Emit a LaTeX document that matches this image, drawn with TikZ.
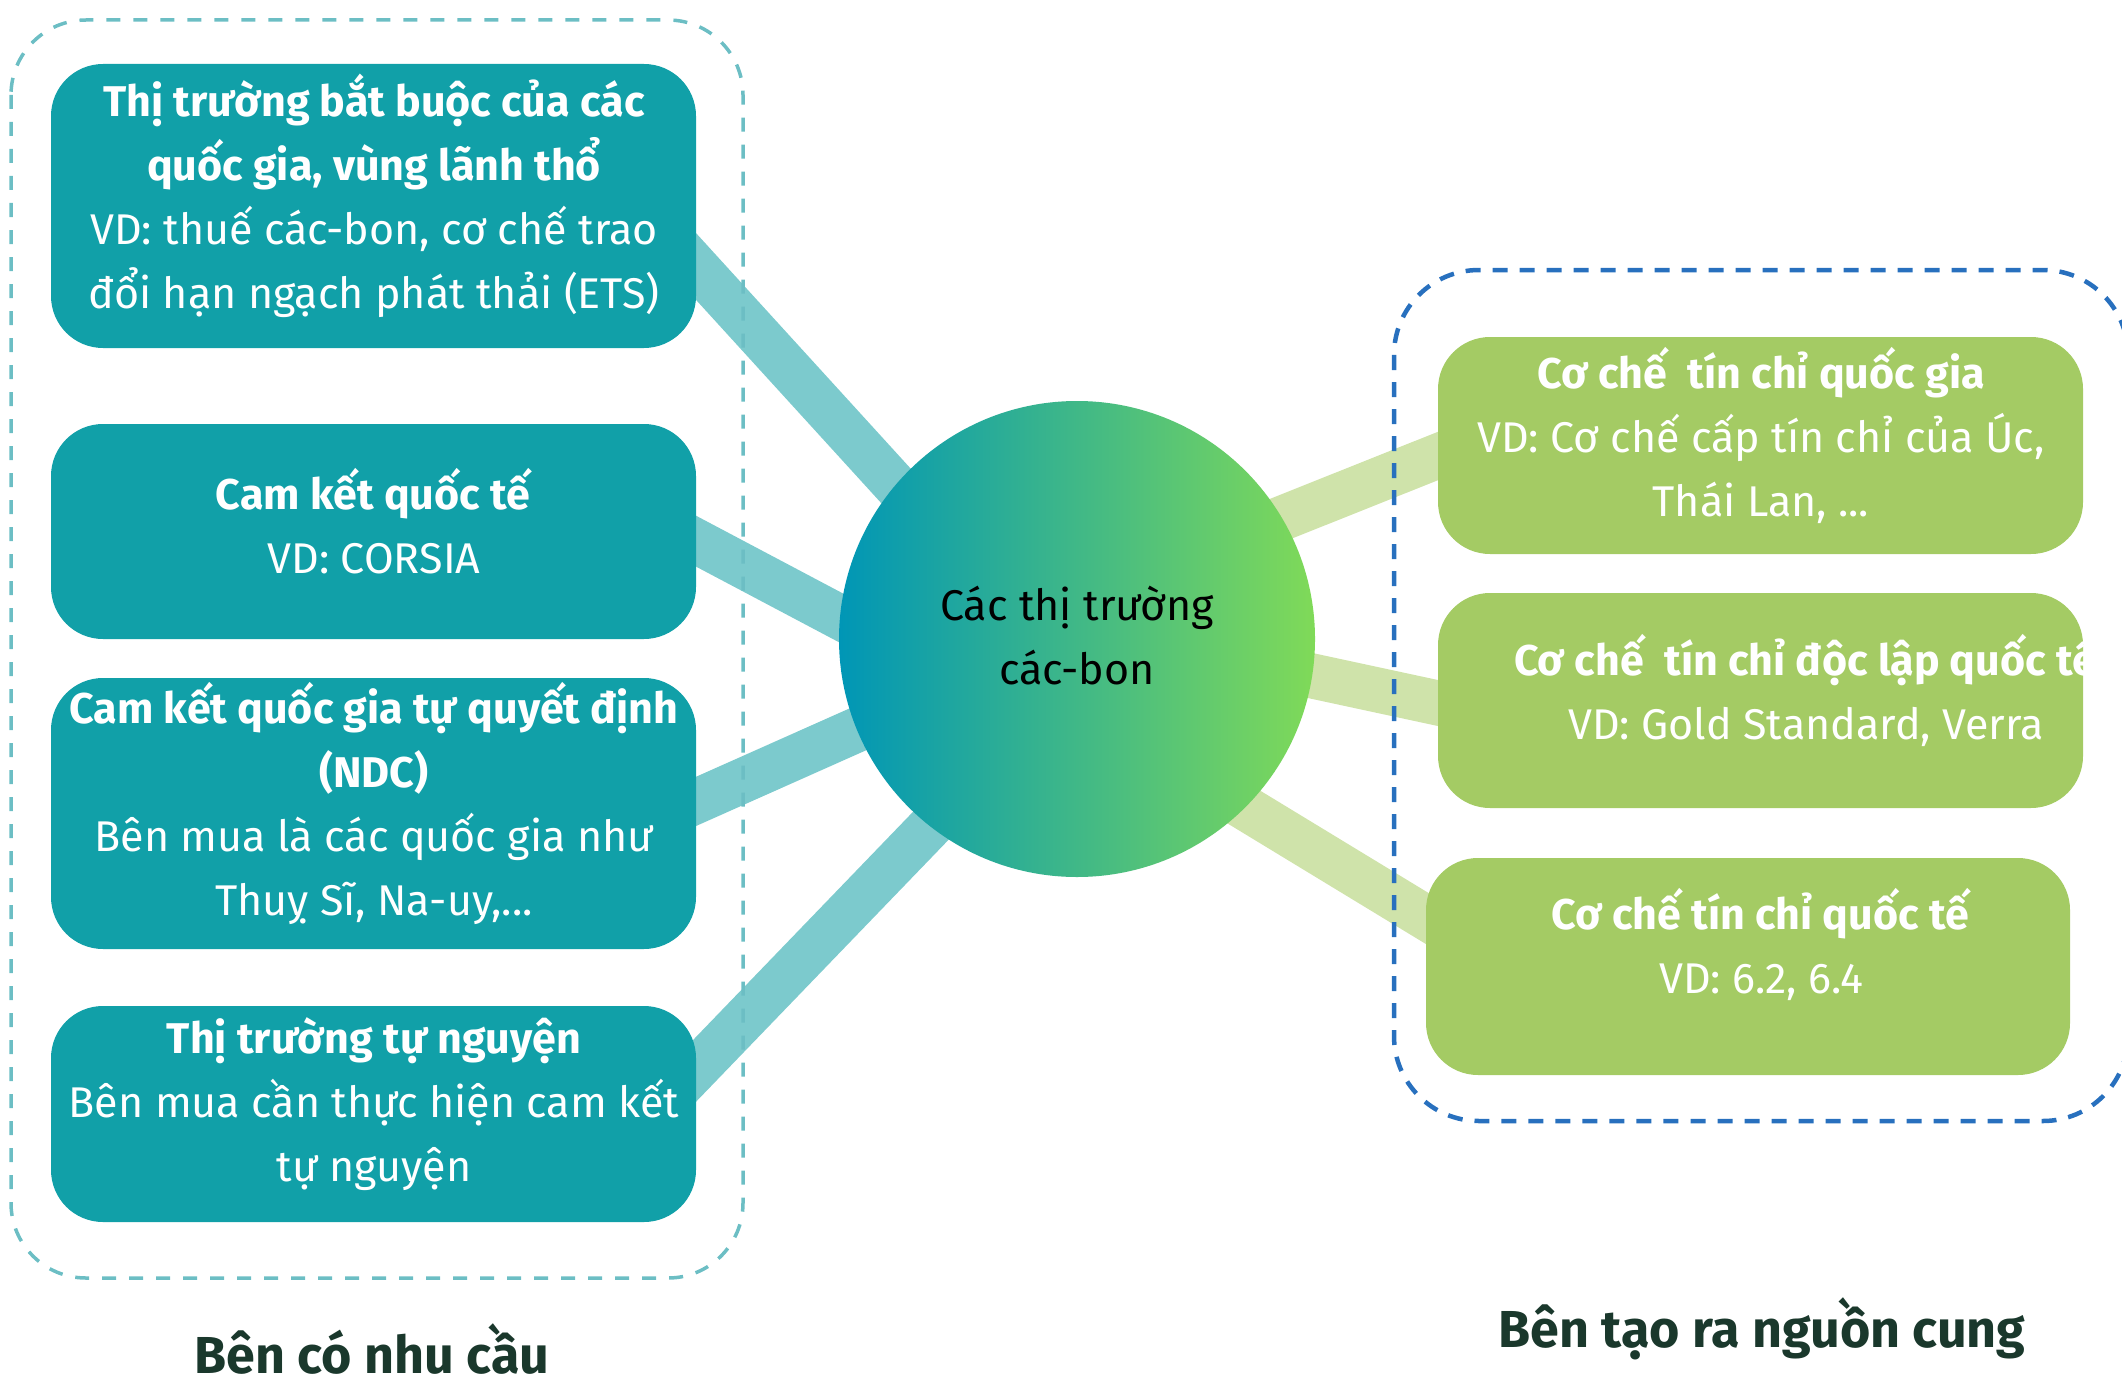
\documentclass[tikz,border=0pt]{standalone}
\usepackage{fontspec}
\setmainfont{Fira Sans}
\usetikzlibrary{calc}
\definecolor{tealbox}{RGB}{17,160,168}
\definecolor{tealline}{RGB}{124,202,205}
\definecolor{tealdash}{RGB}{108,190,196}
\definecolor{greenbox}{RGB}{164,203,100}
\definecolor{greenline}{RGB}{207,227,170}
\definecolor{bluedash}{RGB}{40,112,190}
\definecolor{labelc}{RGB}{26,56,44}
\definecolor{hubL}{RGB}{0,150,182}
\definecolor{hubR}{RGB}{128,218,88}
\tikzset{
  lbox/.style={fill=tealbox, draw=none, rounded corners=52pt, minimum width=645pt, inner sep=0pt},
  rbox/.style={fill=greenbox, draw=none, rounded corners=52pt, minimum width=645pt, inner sep=0pt},
  boxtext/.style={text=white, align=center, font=\fontsize{43}{64}\selectfont, inner sep=0pt},
  lconn/.style={draw=tealline, line width=45pt},
  rconn/.style={draw=greenline, line width=45pt},
  lframe/.style={draw=tealdash, line width=3.5pt, dash pattern=on 14pt off 13pt, rounded corners=75pt},
  rframe/.style={draw=bluedash, line width=4.5pt, dash pattern=on 15pt off 12pt, rounded corners=85pt},
  sidelabel/.style={text=labelc, font=\fontsize{52}{60}\selectfont\bfseries, inner sep=0pt, anchor=base}
}
\begin{document}
\begin{tikzpicture}[x=1pt,y=-1pt]
\useasboundingbox (0,0) rectangle (2122,1383);
% named anchors for box and hub positions
\coordinate (b1c) at (373.5,206);
\coordinate (b2c) at (373.5,531.5);
\coordinate (b3c) at (373.5,813.5);
\coordinate (b4c) at (373.5,1114);
\coordinate (g1c) at (1760.5,445.5);
\coordinate (g2c) at (1760.5,700.5);
\coordinate (g3c) at (1748,966.5);
\coordinate (hubc) at (1077,639);
% connectors (drawn first, behind everything)
\coordinate (l1a) at ($(b1c)+(292,27)$);
\coordinate (l1b) at ($(hubc)+(-77,-39)$);
\coordinate (l2a) at ($(b2c)+(292,-6.5)$);
\coordinate (l2b) at ($(hubc)+(-77,63)$);
\coordinate (l3a) at ($(b3c)+(292,1.5)$);
\coordinate (l3b) at ($(hubc)+(-77,27)$);
\coordinate (l4a) at ($(b4c)+(292,-13)$);
\coordinate (l4b) at ($(hubc)+(-77,115)$);
\coordinate (r1a) at ($(g1c)+(-292.5,-1.5)$);
\coordinate (r1b) at ($(hubc)+(73,-68)$);
\coordinate (r2a) at ($(g2c)+(-292.5,9)$);
\coordinate (r2b) at ($(hubc)+(73,2)$);
\coordinate (r3a) at ($(g3c)+(-292,-30.5)$);
\coordinate (r3b) at ($(hubc)+(73,111)$);
\draw[lconn] (l1a) -- (l1b);
\draw[lconn] (l2a) -- (l2b);
\draw[lconn] (l3a) -- (l3b);
\draw[lconn] (l4a) -- (l4b);
\draw[rconn] (r1a) -- (r1b);
\draw[rconn] (r2a) -- (r2b);
\draw[rconn] (r3a) -- (r3b);
% dashed group frames
\draw[lframe] (11,20) rectangle (743,1278);
\draw[rframe] (1394,270) rectangle (2128,1121);
% boxes
\node[lbox, minimum height=284pt] (b1) at (b1c) {};
\node[lbox, minimum height=215pt] (b2) at (b2c) {};
\node[lbox, minimum height=271pt] (b3) at (b3c) {};
\node[lbox, minimum height=216pt] (b4) at (b4c) {};
\node[rbox, minimum height=217pt] (g1) at (g1c) {};
\node[rbox, minimum height=215pt] (g2) at (g2c) {};
\node[rbox, minimum height=217pt, minimum width=644pt] (g3) at (g3c) {};
\node[circle, minimum size=476pt, inner sep=0pt, left color=hubL, right color=hubR] (hub) at (hubc) {};
% texts
\node[boxtext] (t1) at (374,196) {\textbf{Thị trường bắt buộc của các}\\\textbf{quốc gia, vùng lãnh thổ}\\VD: thuế các-bon, cơ chế trao\\đổi hạn ngạch phát thải (ETS)};
\node[boxtext] (t2) at (374,521) {\textbf{Cam kết quốc tế}\\VD: CORSIA};
\node[boxtext] (t3) at (374,803) {\textbf{Cam kết quốc gia tự quyết định}\\\textbf{(NDC)}\\Bên mua là các quốc gia như\\Thuỵ Sĩ, Na-uy,...};
\node[boxtext] (t4) at (374,1104) {\textbf{Thị trường tự nguyện}\\Bên mua cần thực hiện cam kết\\tự nguyện};
\node[boxtext] (s1) at (1761,435) {\textbf{Cơ chế\ \ tín chỉ quốc gia}\\VD: Cơ chế cấp tín chỉ của Úc,\\Thái Lan, ...};
\begin{scope}
  \clip[rounded corners=52pt] (1438,593) rectangle (2083,808);
  \node[boxtext] (s2) at (1806,690) {\textbf{Cơ chế\ \ tín chỉ độc lập quốc tế}\\VD: Gold Standard, Verra};
\end{scope}
\node[boxtext] (s3) at (1761,944) {\textbf{Cơ chế tín chỉ quốc tế}\\VD: 6.2, 6.4};
\node[boxtext, text=black] (ht) at (1077,636) {Các thị trường\\các-bon};
% side labels
\node[sidelabel] (dem) at (372,1373) {Bên có nhu cầu};
\node[sidelabel] (sup) at (1762,1347) {Bên tạo ra nguồn cung};
\end{tikzpicture}
\end{document}
